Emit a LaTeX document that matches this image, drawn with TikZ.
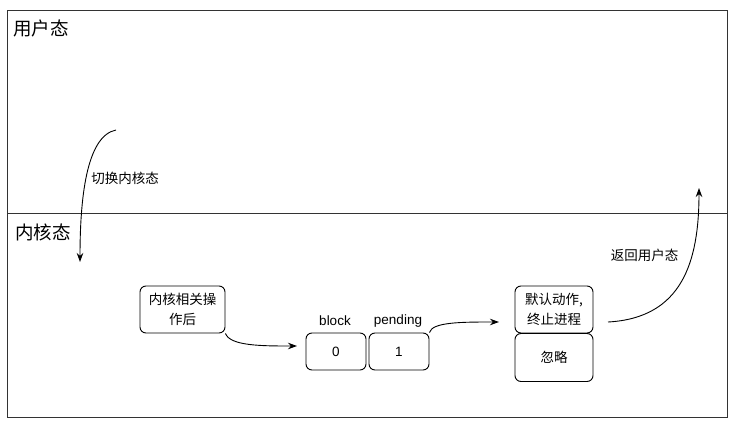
\documentclass[tikz,border=0pt]{standalone}
\usepackage{fontspec}
\setmainfont{Noto Sans CJK SC}
\newfontfamily\latin{Liberation Sans}
\usetikzlibrary{arrows.meta}
\begin{document}
\begin{tikzpicture}[x=1pt, y=-1pt,
        every node/.style={inner sep=0pt, font=\fontsize{13.5}{20}\selectfont},
        title/.style={anchor=west, font=\fontsize{18.5}{22}\selectfont},
        box/.style={draw, rounded corners=6pt, line width=0.9pt, align=center},
        arr/.style={line width=0.9pt, -{Stealth[length=9pt, width=6.5pt]}}]
        \useasboundingbox (0, 0) rectangle (737, 428);

        % two states
        \draw[line width=0.9pt, draw=black!80] (7, 10) rectangle (727, 213);
        \draw[line width=0.9pt, draw=black!80] (7, 213) rectangle (727, 417);
        \node[title] (user) at (13, 28) {用户态};
        \node[title] (kern) at (15, 232) {内核态};

        \node[box, minimum width=85pt, minimum height=47pt] (op) at (182.5, 309.5) {内核相关操\\作后};
        \node[box, minimum width=60pt, minimum height=37pt] (blk) at (336, 351.5) {\latin 0};
        \node[box, minimum width=60pt, minimum height=37pt] (pnd) at (399, 351.5) {\latin 1};
        \node (blkl) at (335, 321) {\latin block};
        \node (pndl) at (398, 321) {\latin pending};
        \node[box, minimum width=78pt, minimum height=47pt] (dflt) at (554, 309.5) {默认动作,\\终止进程};
        \node[box, minimum width=78pt, minimum height=48pt] (ign) at (554, 357.5) {忽略};

        \node (sw) at (125, 178) {切换内核态};
        \node (ret) at (644.5, 255) {返回用户态};

        \coordinate (s1) at (116, 130);
        \coordinate (t1) at (80, 262);
        \coordinate (t2) at (297, 346);
        \coordinate (t3) at (499, 322);
        \coordinate (s4) at (608, 322);
        \coordinate (t4) at (699, 188);

        \draw[arr] (s1) .. controls (86, 136) and (80, 200) .. (t1);
        \draw[arr] (op.south east) .. controls (230, 346) and (262, 346) .. (t2);
        \draw[arr] (pnd.north east) .. controls (432, 322) and (462, 322) .. (t3);
        \draw[arr] (s4) .. controls (682, 318) and (699, 262) .. (t4);
    \end{tikzpicture}
\end{document}
